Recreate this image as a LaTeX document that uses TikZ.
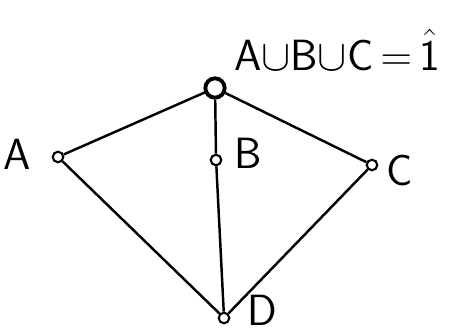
\documentclass[tikz,border=0pt]{standalone}
\usepackage{amsmath}
\usetikzlibrary{positioning}
\tikzset{
  elem/.style={draw,circle,line width=1.2pt,inner sep=0pt,minimum size=6pt},
  topelem/.style={elem,line width=2.2pt,minimum size=11pt},
  lbl/.style={font=\sffamily\Huge,inner sep=1pt}
}
\begin{document}
\begin{tikzpicture}[scale=0.02]
    \useasboundingbox (0,0) rectangle (457,334);
    \node[topelem] (T) at (215,246) {};
    \node[elem] (A) at (58,177) {};
    \node[elem] (B) at (216,174) {};
    \node[elem] (C) at (372,169) {};
    \node[elem] (D) at (224,16) {};
    \draw[line width=1.4pt] (T) -- (A);
    \draw[line width=1.4pt] (T) -- (B);
    \draw[line width=1.4pt] (T) -- (C);
    \draw[line width=1.4pt] (A) -- (D);
    \draw[line width=1.4pt] (B) -- (D);
    \draw[line width=1.4pt] (C) -- (D);
    \node[lbl,anchor=west] (Ttxt) at (232,284) {A$\cup$B$\cup$C\,$=$\,$\hat{\text{1}}$};
    \node[lbl] (Atxt) at (17,180) {A};
    \node[lbl] (Btxt) at (248,181) {B};
    \node[lbl] (Ctxt) at (400,164) {C};
    \node[lbl,anchor=base] (Dtxt) at (262,8) {D};
\end{tikzpicture}
\end{document}
